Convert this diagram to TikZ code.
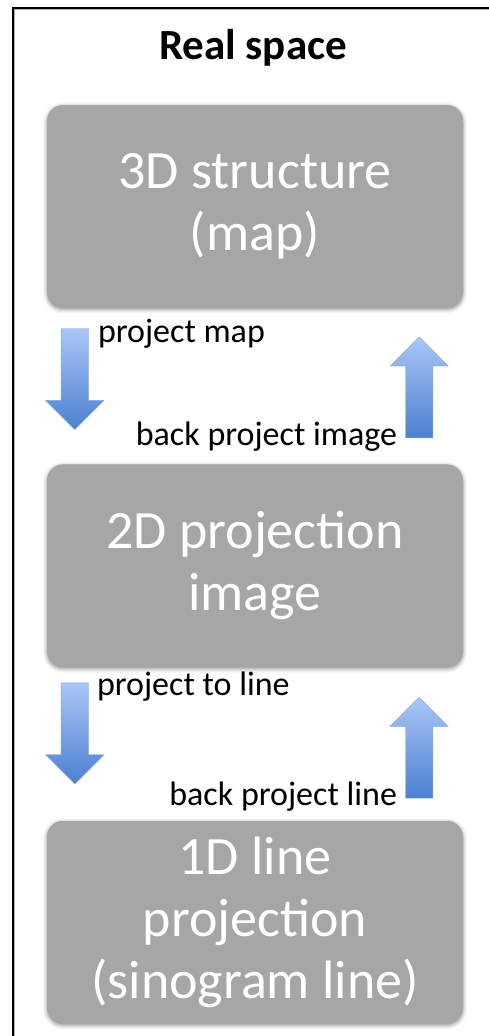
\documentclass[tikz,border=0pt]{standalone}
\usepackage{fontspec}
\setmainfont{Carlito}
\usetikzlibrary{positioning,calc,shapes.arrows,shadows.blur}

\definecolor{boxgray}{RGB}{166,166,166}
\definecolor{arrowtop}{RGB}{170,198,246}
\definecolor{arrowbot}{RGB}{76,128,208}

\begin{document}
\begin{tikzpicture}[
    x=1pt, y=1pt,
    box/.style={
        rounded corners=16pt,
        fill=boxgray,
        minimum width=416pt,
        minimum height=203pt,
        inner sep=0pt,
        align=center,
        text=white,
        font=\fontsize{54}{62}\selectfont,
        blur shadow={shadow xshift=0pt, shadow yshift=-1.5pt,
                     shadow blur radius=4pt, shadow opacity=45}
    },
    flow/.style={
        single arrow,
        minimum height=101pt,
        minimum width=58pt,
        inner sep=13.5pt,
        single arrow head extend=15.5pt,
        single arrow tip angle=90,
        top color=arrowtop,
        bottom color=arrowbot,
        draw=arrowbot!70,
        line width=0.4pt
    },
    down/.style={flow, shape border rotate=270},
    up/.style={flow, shape border rotate=90},
    lbl/.style={font=\fontsize{34}{40}\selectfont, inner sep=0pt},
    ttl/.style={font=\fontsize{43}{50}\selectfont\bfseries, inner sep=0pt}
]
\useasboundingbox (0,0) rectangle (488,1036);

% ============================================================
% FRAME
% ============================================================
\draw[gray!60, line width=1.5pt] (14.5,-10) -- (14.5,1026.5) -- (500,1026.5);
\draw[black, line width=1.4pt] (13,-10) -- (13,1028) -- (500,1028);

% ============================================================
% BOXES
% ============================================================
\node[box] (map) at (255,829.5) {3D structure\\(map)};
\node[box, below=156pt of map] (proj) {2D projection\\image};
\node[box, below=153pt of proj] (line) {1D line\\projection\\(sinogram line)};

\node[ttl, anchor=base] (title) at ($(map.north)+(-2,45)$) {Real space};

% ============================================================
% ARROWS BETWEEN BOXES
% ============================================================
\node[down] (pmap) at ($(map.south west)+(28,-64)$) {};
\node[up] (bpimg) at ($(map.south east)+(-44,-86)$) {};
\node[down] (pline) at ($(proj.south west)+(28,-59)$) {};
\node[up] (bpline) at ($(proj.south east)+(-44,-87)$) {};

\node[lbl, anchor=base west] (lpmap) at ($(map.south west)+(51,-34)$) {project map};
\node[lbl, anchor=base east] (lbpimg) at ($(map.south east)+(-66,-137)$) {back project image};
\node[lbl, anchor=base west] (lpline) at ($(proj.south west)+(50,-28)$) {project to line};
\node[lbl, anchor=base east] (lbpline) at ($(proj.south east)+(-66,-138)$) {back project line};

\end{tikzpicture}
\end{document}
